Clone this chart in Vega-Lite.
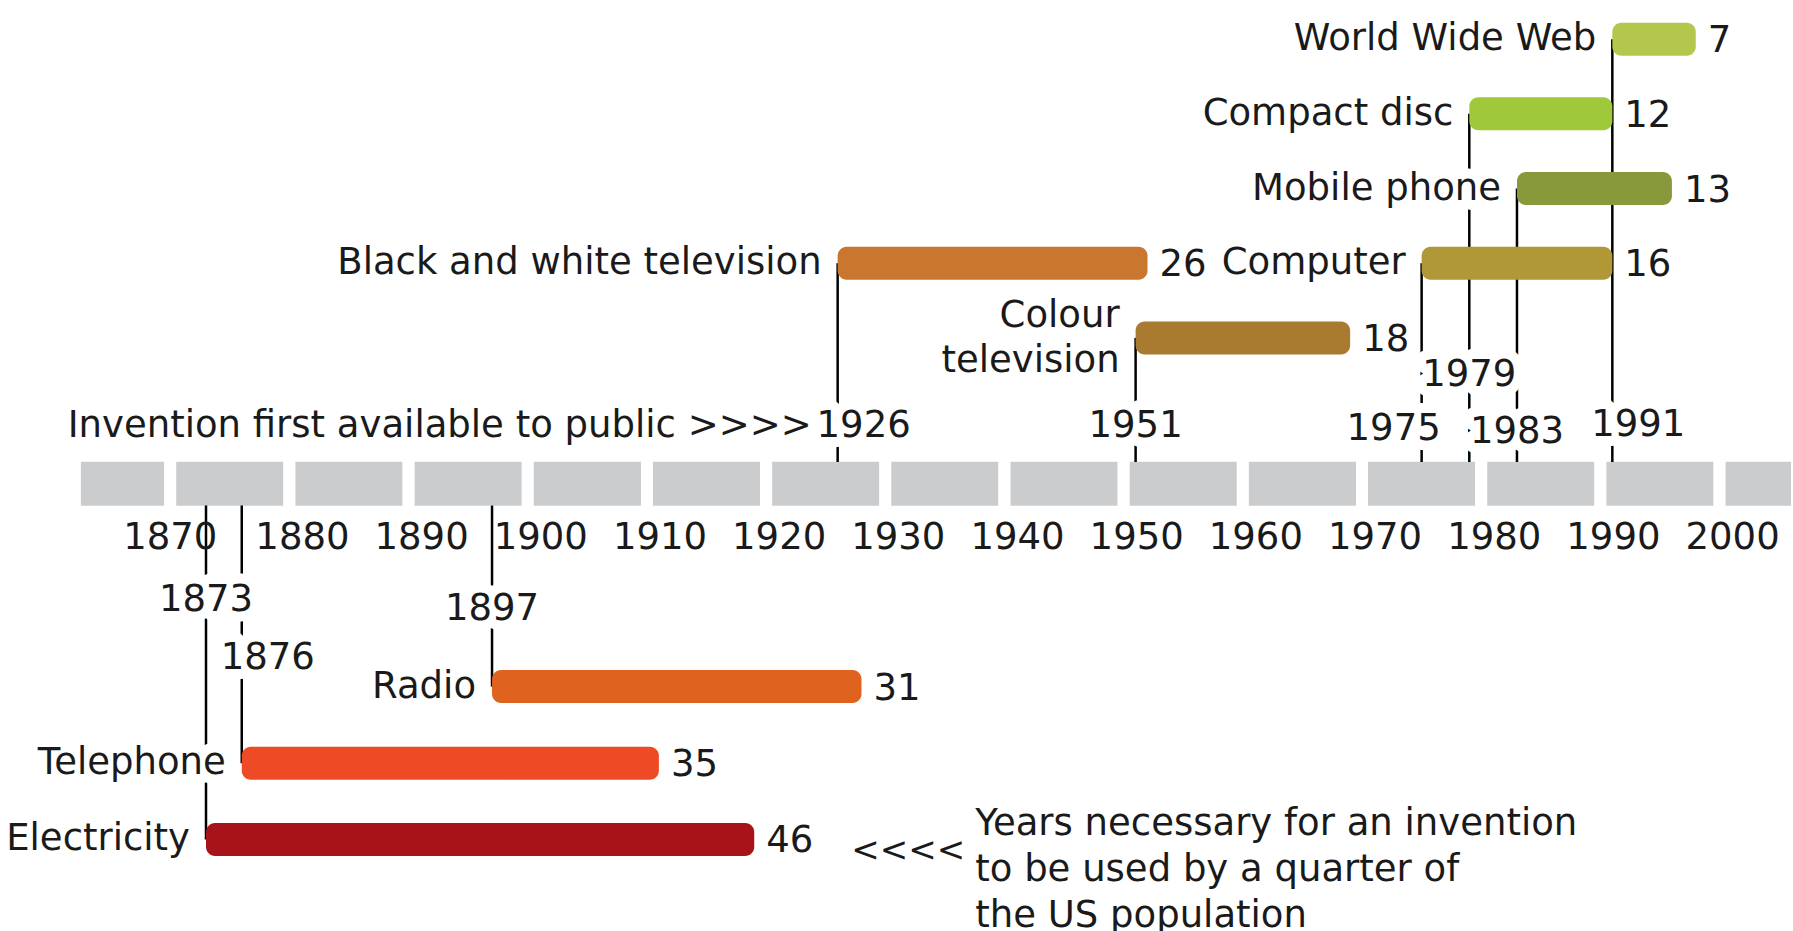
{
  "$schema": "https://vega.github.io/schema/vega-lite/v6.json",
  "width": 1793,
  "height": 931,
  "autosize": {"type": "none"},
  "padding": 0,
  "background": "white",
  "config": {"view": {"stroke": null}},
  "datasets": {
    "inventions": [
      {"name": "Electricity", "label": "Electricity", "year": 1873, "years": 46, "end": 1919, "row": 10.715, "labelRow": 7.509},
      {"name": "Telephone", "label": "Telephone", "year": 1876, "years": 35, "end": 1911, "row": 9.695, "labelRow": 8.29},
      {"name": "Radio", "label": "Radio", "year": 1897, "years": 31, "end": 1928, "row": 8.669, "labelRow": 7.628},
      {"name": "Black and white television", "label": "Black and white television", "year": 1926, "years": 26, "end": 1952, "row": 3, "labelRow": 5.178},
      {"name": "Colour television", "label": "Colour\ntelevision", "year": 1951, "years": 18, "end": 1969, "row": 4, "labelRow": 5.178},
      {"name": "Computer", "label": "Computer", "year": 1975, "years": 16, "end": 1991, "row": 3, "labelRow": 5.217},
      {"name": "Compact disc", "label": "Compact disc", "year": 1979, "years": 12, "end": 1991, "row": 1, "labelRow": 4.502},
      {"name": "Mobile phone", "label": "Mobile phone", "year": 1983, "years": 13, "end": 1996, "row": 2, "labelRow": 5.257},
      {"name": "World Wide Web", "label": "World Wide Web", "year": 1991, "years": 7, "end": 1998, "row": 0, "labelRow": 5.164}
    ],
    "blocks": [
      {"from": 1862, "to": 1870}, {"from": 1870, "to": 1880}, {"from": 1880, "to": 1890},
      {"from": 1890, "to": 1900}, {"from": 1900, "to": 1910}, {"from": 1910, "to": 1920},
      {"from": 1920, "to": 1930}, {"from": 1930, "to": 1940}, {"from": 1940, "to": 1950},
      {"from": 1950, "to": 1960}, {"from": 1960, "to": 1970}, {"from": 1970, "to": 1980},
      {"from": 1980, "to": 1990}, {"from": 1990, "to": 2000}, {"from": 2000, "to": 2006.5}
    ],
    "decades": [
      {"decade": 1870}, {"decade": 1880}, {"decade": 1890}, {"decade": 1900}, {"decade": 1910},
      {"decade": 1920}, {"decade": 1930}, {"decade": 1940}, {"decade": 1950}, {"decade": 1960},
      {"decade": 1970}, {"decade": 1980}, {"decade": 1990}, {"decade": 2000}
    ]
  },
  "layer": [
    {
      "data": {"name": "blocks"},
      "mark": {"type": "bar", "height": 56, "fill": "#cbcccd", "stroke": "white", "strokeWidth": 12},
      "encoding": {
        "x": {"field": "from", "type": "quantitative", "scale": {"domain": [1855.715, 2006.16], "nice": false, "zero": false}, "axis": null},
        "x2": {"field": "to"},
        "y": {"datum": 5.954, "type": "quantitative", "scale": {"domain": [-0.457, 11.874], "nice": false, "zero": false, "reverse": true}, "axis": null}
      }
    },
    {
      "data": {"name": "inventions"},
      "transform": [{"filter": "datum.row < 6"}],
      "mark": {"type": "rule", "stroke": "#000000", "strokeWidth": 2.5},
      "encoding": {
        "x": {"field": "year", "type": "quantitative", "scale": {"domain": [1855.715, 2006.16], "nice": false, "zero": false}, "axis": null},
        "y": {"field": "row", "type": "quantitative", "scale": {"domain": [-0.457, 11.874], "nice": false, "zero": false, "reverse": true}, "axis": null},
        "y2": {"datum": 5.662}
      }
    },
    {
      "data": {"name": "inventions"},
      "transform": [{"filter": "datum.row > 6"}],
      "mark": {"type": "rule", "stroke": "#000000", "strokeWidth": 2.5},
      "encoding": {
        "x": {"field": "year", "type": "quantitative", "scale": {"domain": [1855.715, 2006.16], "nice": false, "zero": false}, "axis": null},
        "y": {"field": "row", "type": "quantitative", "scale": {"domain": [-0.457, 11.874], "nice": false, "zero": false, "reverse": true}, "axis": null},
        "y2": {"datum": 6.245}
      }
    },
    {
      "data": {"name": "inventions"},
      "transform": [{"filter": {"not": {"field": "name", "equal": "Colour television"}}}],
      "mark": {"type": "text", "font": "DejaVu Sans", "fontSize": 37, "align": "right", "baseline": "middle", "dx": -16, "fill": "white", "stroke": "white", "strokeWidth": 20, "strokeJoin": "round"},
      "encoding": {
        "x": {"field": "year", "type": "quantitative", "scale": {"domain": [1855.715, 2006.16], "nice": false, "zero": false}, "axis": null},
        "y": {"field": "row", "type": "quantitative", "scale": {"domain": [-0.457, 11.874], "nice": false, "zero": false, "reverse": true}, "axis": null},
        "text": {"field": "label", "type": "nominal"}
      }
    },
    {
      "data": {"name": "inventions"},
      "transform": [{"filter": {"field": "name", "equal": "Colour television"}}],
      "mark": {"type": "text", "font": "DejaVu Sans", "fontSize": 37, "align": "right", "baseline": "middle", "dx": -16, "dy": -22, "lineBreak": "\n", "lineHeight": 45, "fill": "white", "stroke": "white", "strokeWidth": 20, "strokeJoin": "round"},
      "encoding": {
        "x": {"field": "year", "type": "quantitative", "scale": {"domain": [1855.715, 2006.16], "nice": false, "zero": false}, "axis": null},
        "y": {"field": "row", "type": "quantitative", "scale": {"domain": [-0.457, 11.874], "nice": false, "zero": false, "reverse": true}, "axis": null},
        "text": {"field": "label", "type": "nominal"}
      }
    },
    {
      "data": {"name": "inventions"},
      "mark": {"type": "text", "font": "DejaVu Sans", "fontSize": 37, "align": "left", "baseline": "middle", "dx": 12, "dy": 2, "fill": "white", "stroke": "white", "strokeWidth": 20, "strokeJoin": "round"},
      "encoding": {
        "x": {"field": "end", "type": "quantitative", "scale": {"domain": [1855.715, 2006.16], "nice": false, "zero": false}, "axis": null},
        "y": {"field": "row", "type": "quantitative", "scale": {"domain": [-0.457, 11.874], "nice": false, "zero": false, "reverse": true}, "axis": null},
        "text": {"field": "years", "type": "nominal"}
      }
    },
    {
      "data": {"name": "inventions"},
      "transform": [{"filter": {"field": "year", "oneOf": [1873, 1897, 1951, 1979, 1983]}}],
      "mark": {"type": "text", "font": "DejaVu Sans", "fontSize": 37, "align": "center", "baseline": "middle", "fill": "white", "stroke": "white", "strokeWidth": 20, "strokeJoin": "round"},
      "encoding": {
        "x": {"field": "year", "type": "quantitative", "scale": {"domain": [1855.715, 2006.16], "nice": false, "zero": false}, "axis": null},
        "y": {"field": "labelRow", "type": "quantitative", "scale": {"domain": [-0.457, 11.874], "nice": false, "zero": false, "reverse": true}, "axis": null},
        "text": {"field": "year", "type": "nominal"}
      }
    },
    {
      "data": {"name": "inventions"},
      "transform": [{"filter": {"field": "year", "oneOf": [1876, 1926, 1991]}}],
      "mark": {"type": "text", "font": "DejaVu Sans", "fontSize": 37, "align": "center", "baseline": "middle", "dx": 26, "fill": "white", "stroke": "white", "strokeWidth": 20, "strokeJoin": "round"},
      "encoding": {
        "x": {"field": "year", "type": "quantitative", "scale": {"domain": [1855.715, 2006.16], "nice": false, "zero": false}, "axis": null},
        "y": {"field": "labelRow", "type": "quantitative", "scale": {"domain": [-0.457, 11.874], "nice": false, "zero": false, "reverse": true}, "axis": null},
        "text": {"field": "year", "type": "nominal"}
      }
    },
    {
      "data": {"name": "inventions"},
      "transform": [{"filter": {"field": "year", "oneOf": [1975]}}],
      "mark": {"type": "text", "font": "DejaVu Sans", "fontSize": 37, "align": "center", "baseline": "middle", "dx": -28, "fill": "white", "stroke": "white", "strokeWidth": 20, "strokeJoin": "round"},
      "encoding": {
        "x": {"field": "year", "type": "quantitative", "scale": {"domain": [1855.715, 2006.16], "nice": false, "zero": false}, "axis": null},
        "y": {"field": "labelRow", "type": "quantitative", "scale": {"domain": [-0.457, 11.874], "nice": false, "zero": false, "reverse": true}, "axis": null},
        "text": {"field": "year", "type": "nominal"}
      }
    },
    {
      "data": {"name": "inventions"},
      "mark": {"type": "bar", "height": 33, "cornerRadius": 9},
      "encoding": {
        "x": {"field": "year", "type": "quantitative", "scale": {"domain": [1855.715, 2006.16], "nice": false, "zero": false}, "axis": null},
        "x2": {"field": "end"},
        "y": {"field": "row", "type": "quantitative", "scale": {"domain": [-0.457, 11.874], "nice": false, "zero": false, "reverse": true}, "axis": null},
        "color": {
          "field": "name", "type": "nominal", "legend": null,
          "scale": {
            "domain": ["Electricity", "Telephone", "Radio", "Black and white television", "Colour television", "Computer", "Compact disc", "Mobile phone", "World Wide Web"],
            "range": ["#a8131a", "#ef4a26", "#e0621f", "#c9762f", "#a97b31", "#b19836", "#9fc93b", "#87993a", "#b4c64b"]
          }
        }
      }
    },
    {
      "data": {"name": "inventions"},
      "transform": [{"filter": {"not": {"field": "name", "equal": "Colour television"}}}],
      "mark": {"type": "text", "font": "DejaVu Sans", "fontSize": 37, "align": "right", "baseline": "middle", "dx": -16, "fill": "#1a1a1a"},
      "encoding": {
        "x": {"field": "year", "type": "quantitative", "scale": {"domain": [1855.715, 2006.16], "nice": false, "zero": false}, "axis": null},
        "y": {"field": "row", "type": "quantitative", "scale": {"domain": [-0.457, 11.874], "nice": false, "zero": false, "reverse": true}, "axis": null},
        "text": {"field": "label", "type": "nominal"}
      }
    },
    {
      "data": {"name": "inventions"},
      "transform": [{"filter": {"field": "name", "equal": "Colour television"}}],
      "mark": {"type": "text", "font": "DejaVu Sans", "fontSize": 37, "align": "right", "baseline": "middle", "dx": -16, "dy": -22, "lineBreak": "\n", "lineHeight": 45, "fill": "#1a1a1a"},
      "encoding": {
        "x": {"field": "year", "type": "quantitative", "scale": {"domain": [1855.715, 2006.16], "nice": false, "zero": false}, "axis": null},
        "y": {"field": "row", "type": "quantitative", "scale": {"domain": [-0.457, 11.874], "nice": false, "zero": false, "reverse": true}, "axis": null},
        "text": {"field": "label", "type": "nominal"}
      }
    },
    {
      "data": {"name": "inventions"},
      "mark": {"type": "text", "font": "DejaVu Sans", "fontSize": 37, "align": "left", "baseline": "middle", "dx": 12, "dy": 2, "fill": "#1a1a1a"},
      "encoding": {
        "x": {"field": "end", "type": "quantitative", "scale": {"domain": [1855.715, 2006.16], "nice": false, "zero": false}, "axis": null},
        "y": {"field": "row", "type": "quantitative", "scale": {"domain": [-0.457, 11.874], "nice": false, "zero": false, "reverse": true}, "axis": null},
        "text": {"field": "years", "type": "nominal"}
      }
    },
    {
      "data": {"name": "inventions"},
      "transform": [{"filter": {"field": "year", "oneOf": [1873, 1897, 1951, 1979, 1983]}}],
      "mark": {"type": "text", "font": "DejaVu Sans", "fontSize": 37, "align": "center", "baseline": "middle", "fill": "#1a1a1a"},
      "encoding": {
        "x": {"field": "year", "type": "quantitative", "scale": {"domain": [1855.715, 2006.16], "nice": false, "zero": false}, "axis": null},
        "y": {"field": "labelRow", "type": "quantitative", "scale": {"domain": [-0.457, 11.874], "nice": false, "zero": false, "reverse": true}, "axis": null},
        "text": {"field": "year", "type": "nominal"}
      }
    },
    {
      "data": {"name": "inventions"},
      "transform": [{"filter": {"field": "year", "oneOf": [1876, 1926, 1991]}}],
      "mark": {"type": "text", "font": "DejaVu Sans", "fontSize": 37, "align": "center", "baseline": "middle", "dx": 26, "fill": "#1a1a1a"},
      "encoding": {
        "x": {"field": "year", "type": "quantitative", "scale": {"domain": [1855.715, 2006.16], "nice": false, "zero": false}, "axis": null},
        "y": {"field": "labelRow", "type": "quantitative", "scale": {"domain": [-0.457, 11.874], "nice": false, "zero": false, "reverse": true}, "axis": null},
        "text": {"field": "year", "type": "nominal"}
      }
    },
    {
      "data": {"name": "inventions"},
      "transform": [{"filter": {"field": "year", "oneOf": [1975]}}],
      "mark": {"type": "text", "font": "DejaVu Sans", "fontSize": 37, "align": "center", "baseline": "middle", "dx": -28, "fill": "#1a1a1a"},
      "encoding": {
        "x": {"field": "year", "type": "quantitative", "scale": {"domain": [1855.715, 2006.16], "nice": false, "zero": false}, "axis": null},
        "y": {"field": "labelRow", "type": "quantitative", "scale": {"domain": [-0.457, 11.874], "nice": false, "zero": false, "reverse": true}, "axis": null},
        "text": {"field": "year", "type": "nominal"}
      }
    },
    {
      "data": {"name": "inventions"},
      "transform": [{"filter": {"field": "year", "equal": 1926}}],
      "mark": {"type": "text", "font": "DejaVu Sans", "fontSize": 37, "align": "right", "baseline": "middle", "dx": -26, "fill": "#1a1a1a", "text": "Invention first available to public >>>>"},
      "encoding": {
        "x": {"field": "year", "type": "quantitative", "scale": {"domain": [1855.715, 2006.16], "nice": false, "zero": false}, "axis": null},
        "y": {"field": "labelRow", "type": "quantitative", "scale": {"domain": [-0.457, 11.874], "nice": false, "zero": false, "reverse": true}, "axis": null}
      }
    },
    {
      "data": {"name": "decades"},
      "transform": [{"filter": "datum.decade > 1870"}],
      "mark": {"type": "text", "font": "DejaVu Sans", "fontSize": 37, "align": "center", "baseline": "middle", "dx": 13, "fill": "#1a1a1a"},
      "encoding": {
        "x": {"field": "decade", "type": "quantitative", "scale": {"domain": [1855.715, 2006.16], "nice": false, "zero": false}, "axis": null},
        "y": {"datum": 6.674, "type": "quantitative", "scale": {"domain": [-0.457, 11.874], "nice": false, "zero": false, "reverse": true}, "axis": null},
        "text": {"field": "decade", "type": "nominal"}
      }
    },
    {
      "data": {"name": "decades"},
      "transform": [{"filter": "datum.decade == 1870"}],
      "mark": {"type": "text", "font": "DejaVu Sans", "fontSize": 37, "align": "center", "baseline": "middle", "dx": 0, "fill": "#1a1a1a"},
      "encoding": {
        "x": {"field": "decade", "type": "quantitative", "scale": {"domain": [1855.715, 2006.16], "nice": false, "zero": false}, "axis": null},
        "y": {"datum": 6.674, "type": "quantitative", "scale": {"domain": [-0.457, 11.874], "nice": false, "zero": false, "reverse": true}, "axis": null},
        "text": {"field": "decade", "type": "nominal"}
      }
    },
    {
      "data": {"name": "inventions"},
      "transform": [{"filter": {"field": "name", "equal": "Electricity"}}],
      "mark": {"type": "text", "font": "DejaVu Sans", "fontSize": 34, "align": "left", "baseline": "middle", "dx": 97, "dy": 12, "fill": "#1a1a1a", "text": "<<<<"},
      "encoding": {
        "x": {"field": "end", "type": "quantitative", "scale": {"domain": [1855.715, 2006.16], "nice": false, "zero": false}, "axis": null},
        "y": {"field": "row", "type": "quantitative", "scale": {"domain": [-0.457, 11.874], "nice": false, "zero": false, "reverse": true}, "axis": null}
      }
    },
    {
      "data": {"name": "inventions"},
      "transform": [{"filter": {"field": "name", "equal": "Electricity"}}],
      "mark": {"type": "text", "font": "DejaVu Sans", "fontSize": 37, "align": "left", "baseline": "middle", "dx": 221, "dy": -15, "lineBreak": "\n", "lineHeight": 46, "fill": "#1a1a1a", "text": "Years necessary for an invention\nto be used by a quarter of\nthe US population"},
      "encoding": {
        "x": {"field": "end", "type": "quantitative", "scale": {"domain": [1855.715, 2006.16], "nice": false, "zero": false}, "axis": null},
        "y": {"field": "row", "type": "quantitative", "scale": {"domain": [-0.457, 11.874], "nice": false, "zero": false, "reverse": true}, "axis": null}
      }
    }
  ]
}
